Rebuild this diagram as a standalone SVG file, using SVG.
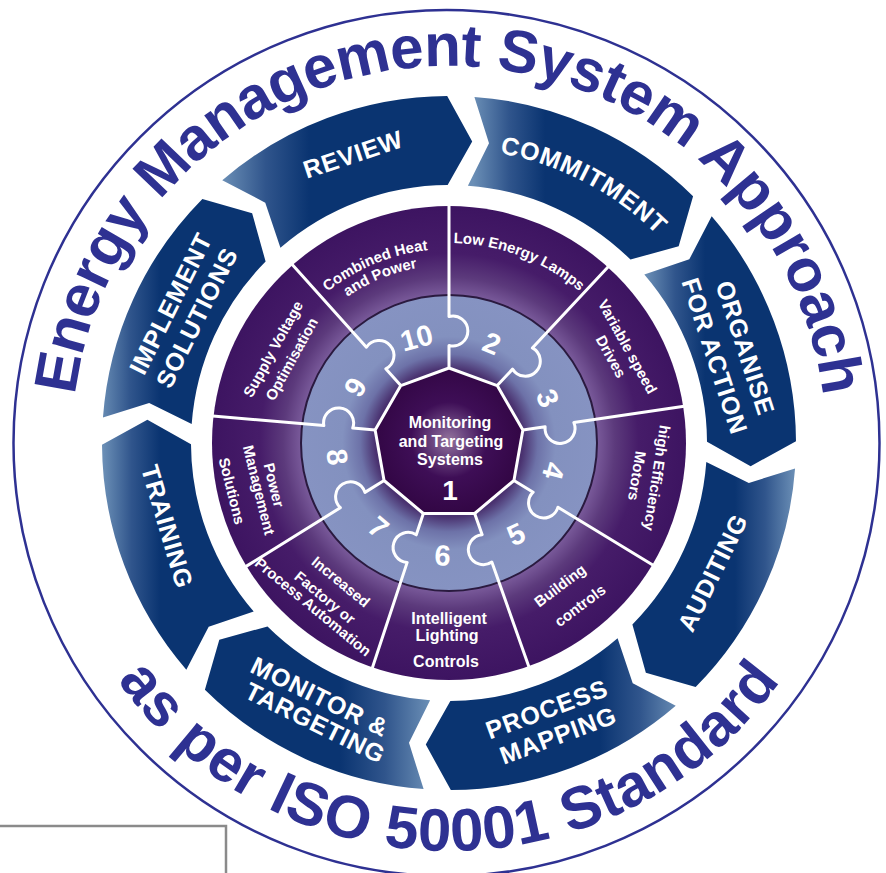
<svg xmlns="http://www.w3.org/2000/svg" width="886" height="873" viewBox="0 0 886 873">
<defs>
<style>
.t{font-family:"Liberation Sans",Arial,Helvetica,sans-serif;font-weight:bold;fill:#ffffff}
.cv{font-size:25px;letter-spacing:0.8px;text-anchor:middle}
.sg{font-size:15px;text-anchor:middle}
.num{font-size:29px;text-anchor:middle}
.title{font-family:"Liberation Sans",Arial,Helvetica,sans-serif;font-weight:bold;font-size:60px;fill:#2e3192}
.spoke{fill:none;stroke:#ffffff;stroke-width:3;stroke-linejoin:round;stroke-linecap:round}
</style>
<path id="chev" d="M347,0 A347,347 0 0 1 263.86,225.36 L213.15,214.65 L196.19,167.56 A258,258 0 0 0 258,0 L301.97,17.94 Z"/>
<linearGradient id="gbase">
<stop offset="0" stop-color="#6b8fb6"/>
<stop offset="0.5" stop-color="#30558c"/>
<stop offset="1" stop-color="#0a3471"/>
</linearGradient>
<linearGradient id="gR" href="#gbase" gradientUnits="userSpaceOnUse" x1="-227" y1="0" x2="-140" y2="0" gradientTransform="rotate(130.8)"/>
<linearGradient id="gC" href="#gbase" gradientUnits="userSpaceOnUse" x1="24" y1="0" x2="96" y2="0" gradientTransform="rotate(85.8)"/>
<linearGradient id="gO" href="#gbase" gradientUnits="userSpaceOnUse" x1="196" y1="0" x2="256" y2="0" gradientTransform="rotate(40.8)"/>
<linearGradient id="gA" href="#gbase" gradientUnits="userSpaceOnUse" x1="346" y1="0" x2="286" y2="0" gradientTransform="rotate(-4.2)"/>
<linearGradient id="gP" href="#gbase" gradientUnits="userSpaceOnUse" x1="231" y1="0" x2="151" y2="0" gradientTransform="rotate(-49.2)"/>
<linearGradient id="gM" href="#gbase" gradientUnits="userSpaceOnUse" x1="-19" y1="0" x2="-109" y2="0" gradientTransform="rotate(-94.2)"/>
<linearGradient id="gT" href="#gbase" gradientUnits="userSpaceOnUse" x1="-346" y1="0" x2="-289" y2="0" gradientTransform="rotate(-139.2)"/>
<linearGradient id="gI" href="#gbase" gradientUnits="userSpaceOnUse" x1="-349" y1="0" x2="-289" y2="0" gradientTransform="rotate(-184.2)"/>
<radialGradient id="gPurple" gradientUnits="userSpaceOnUse" cx="449" cy="443" r="237">
<stop offset="0" stop-color="#7b5c9c"/>
<stop offset="0.62" stop-color="#7b5c9c"/>
<stop offset="0.7" stop-color="#5c3a7c"/>
<stop offset="0.8" stop-color="#461c69"/>
<stop offset="1" stop-color="#3d1461"/>
</radialGradient>
<radialGradient id="gRing" gradientUnits="userSpaceOnUse" cx="449" cy="443" r="148">
<stop offset="0" stop-color="#2d0c45"/>
<stop offset="0.5" stop-color="#4a3270"/>
<stop offset="0.6" stop-color="#6d72a8"/>
<stop offset="0.72" stop-color="#8391bf"/>
<stop offset="1" stop-color="#8693c2"/>
</radialGradient>
<radialGradient id="gNon" gradientUnits="userSpaceOnUse" cx="449" cy="440" r="76">
<stop offset="0" stop-color="#93739c"/>
<stop offset="0.22" stop-color="#6b4580"/>
<stop offset="0.5" stop-color="#3e0e56"/>
<stop offset="1" stop-color="#320644"/>
</radialGradient>
<path id="arcTop" d="M72,443 A377,377 0 0 1 826,443"/>
<path id="arcBot" d="M41,443 A408,408 0 0 0 857,443"/>
<path id="arcCommit" d="M336.49,171.38 A294,294 0 0 1 736.03,379.37"/>
<path id="arcLamps" d="M352.04,268.08 A200,200 0 0 1 638.10,377.89"/>
<path id="arcCHP1" d="M263.98,384.66 A194,194 0 0 1 538.56,270.92"/>
<path id="arcCHP2" d="M279.24,389.47 A178,178 0 0 1 531.19,285.11"/>
</defs>

<rect x="0" y="0" width="886" height="873" fill="#ffffff"/>

<g id="frame-box">
<rect x="-3" y="826" width="229" height="60" fill="none" stroke="#8a8a8a" stroke-width="2.5"/>
</g>

<g id="outer-circle">
<circle cx="446.5" cy="443" r="433" fill="none" stroke="#2e3192" stroke-width="2.5"/>
</g>

<g id="title">
<text class="title" letter-spacing="-0.7"><textPath href="#arcTop" startOffset="50%" text-anchor="middle">Energy Management System Approach</textPath></text>
<text class="title" letter-spacing="0.7"><textPath href="#arcBot" startOffset="50%" text-anchor="middle">as per ISO 50001 Standard</textPath></text>
</g>

<g id="cycle">
<g id="review">
<use href="#chev" fill="url(#gR)" transform="translate(449,443) rotate(-130.8)"/>
<text class="t cv" transform="translate(353,154) rotate(-18.4)" y="9">REVIEW</text>
</g>
<g id="commitment">
<use href="#chev" fill="url(#gC)" transform="translate(449,443) rotate(-85.8)"/>
<text class="t cv" letter-spacing="1.5"><textPath href="#arcCommit" startOffset="50%">COMMITMENT</textPath></text>
</g>
<g id="organise">
<use href="#chev" fill="url(#gO)" transform="translate(449,443) rotate(-40.8)"/>
<text class="t cv" transform="translate(745.5,348) rotate(72)" y="9">ORGANISE</text>
<text class="t cv" transform="translate(715,356) rotate(72)" y="9">FOR ACTION</text>
</g>
<g id="auditing">
<use href="#chev" fill="url(#gA)" transform="translate(449,443) rotate(4.2)"/>
<text class="t cv" transform="translate(712.5,572.5) rotate(-63.8)" y="9">AUDITING</text>
</g>
<g id="process-mapping">
<use href="#chev" fill="url(#gP)" transform="translate(449,443) rotate(49.2)"/>
<text class="t cv" transform="translate(546.7,709) rotate(-20.3)" y="9">PROCESS</text>
<text class="t cv" transform="translate(558,735) rotate(-20.3)" y="9">MAPPING</text>
</g>
<g id="monitor-targeting">
<use href="#chev" fill="url(#gM)" transform="translate(449,443) rotate(94.2)"/>
<text class="t cv" transform="translate(320,696.5) rotate(26.2)" y="9">MONITOR &amp;</text>
<text class="t cv" transform="translate(315.5,722.5) rotate(26.2)" y="9">TARGETING</text>
</g>
<g id="training">
<use href="#chev" fill="url(#gT)" transform="translate(449,443) rotate(139.2)"/>
<text class="t cv" transform="translate(167.5,526.5) rotate(73.5)" y="9">TRAINING</text>
</g>
<g id="implement">
<use href="#chev" fill="url(#gI)" transform="translate(449,443) rotate(184.2)"/>
<text class="t cv" transform="translate(170.5,303.5) rotate(-63.5)" y="9">IMPLEMENT</text>
<text class="t cv" transform="translate(196.5,317.5) rotate(-63.5)" y="9">SOLUTIONS</text>
</g>
</g>

<g id="wheel">
<circle id="outer-wheel" cx="449" cy="443" r="237" fill="url(#gPurple)"/>
<circle id="puzzle-ring" cx="449" cy="443" r="148" fill="url(#gRing)" stroke="#2a1a3f" stroke-width="2"/>
</g>

<g id="dividers">
<path class="spoke" transform="translate(449,368) rotate(-90)" d="M0,0 L22.5,0 A15,15 0 1 0 51.5,0 L163,0"/>
<path class="spoke" transform="translate(497.21,385.55) rotate(-46.96)" d="M0,0 L22.5,0 A15,15 0 1 0 51.5,0 L163,0"/>
<path class="spoke" transform="translate(522.86,429.98) rotate(-8.34)" d="M0,0 L22.5,0 A15,15 0 1 0 51.5,0 L163,0"/>
<path class="spoke" transform="translate(513.95,480.5) rotate(31.33)" d="M0,0 L22.5,0 A15,15 0 1 0 51.5,0 L163,0"/>
<path class="spoke" transform="translate(474.65,513.48) rotate(70.5)" d="M0,0 L22.5,0 A15,15 0 1 0 51.5,0 L163,0"/>
<path class="spoke" transform="translate(423.35,513.48) rotate(108.28)" d="M0,0 L22.5,0 A15,15 0 1 0 51.5,0 L163,0"/>
<path class="spoke" transform="translate(384.05,480.5) rotate(148.1)" d="M0,0 L22.5,0 A15,15 0 1 0 51.5,0 L163,0"/>
<path class="spoke" transform="translate(375.14,429.98) rotate(184.94)" d="M0,0 L22.5,0 A15,15 0 1 0 51.5,0 L163,0"/>
<path class="spoke" transform="translate(400.79,385.55) rotate(228.12)" d="M0,0 L22.5,0 A15,15 0 1 0 51.5,0 L163,0"/>
</g>

<g id="node-1">
<polygon points="449,368 497.21,385.55 522.86,429.98 513.95,480.5 474.65,513.48 423.35,513.48 384.05,480.5 375.14,429.98 400.79,385.55" fill="url(#gNon)" stroke="#ffffff" stroke-width="3" stroke-linejoin="round"/>
<text class="t" font-size="16" text-anchor="middle"><tspan x="450" y="428.3">Monitoring</tspan><tspan x="451" y="446.7">and Targeting</tspan><tspan x="450" y="465">Systems</tspan></text>
<text class="t" font-size="28" text-anchor="middle" x="450" y="500">1</text>
</g>

<g id="node-2">
<text class="t num" transform="translate(492,343) rotate(23)" y="10.4">2</text>
<text class="t sg"><textPath href="#arcLamps" startOffset="50%">Low Energy Lamps</textPath></text>
</g>
<g id="node-3">
<text class="t num" transform="translate(548,398) rotate(65.6)" y="10.4">3</text>
<text class="t sg" transform="translate(627.5,346.5) rotate(61)" y="5.3">Variable speed</text>
<text class="t sg" transform="translate(611,356.5) rotate(61)" y="5.3">Drives</text>
</g>
<g id="node-4">
<text class="t num" transform="translate(554,471) rotate(105)" y="10.4">4</text>
<text class="t sg" transform="translate(657,478) rotate(99)" y="5.3">high Efficiency</text>
<text class="t sg" transform="translate(637,476) rotate(99)" y="5.3">Motors</text>
</g>
<g id="node-5">
<text class="t num" transform="translate(516,534) rotate(-25)" y="10.4">5</text>
<text class="t sg" transform="translate(560,585.5) rotate(-37)" y="5.3">Building</text>
<text class="t sg" transform="translate(580,605.5) rotate(-37)" y="5.3">controls</text>
</g>
<g id="node-6">
<text class="t num" transform="translate(442.5,555) rotate(3)" y="10.4">6</text>
<text class="t" font-size="16" text-anchor="middle"><tspan x="449" y="624">Intelligent</tspan><tspan x="447" y="640.5">Lighting</tspan><tspan x="446" y="666.5">Controls</tspan></text>
</g>
<g id="node-7">
<text class="t num" transform="translate(378.5,527) rotate(40)" y="10.4">7</text>
<text class="t sg" transform="translate(340.8,581.7) rotate(39.5)" y="5.3">Increased</text>
<text class="t sg" transform="translate(325,597.5) rotate(39.5)" y="5.3">Factory or</text>
<text class="t sg" font-size="12.5" transform="translate(312.5,607.5) rotate(39.5)" y="4.4">Process Automation</text>
</g>
<g id="node-8">
<text class="t num" transform="translate(337.5,457) rotate(83)" y="10.4">8</text>
<text class="t sg" transform="translate(274,485) rotate(76)" y="5.3">Power</text>
<text class="t sg" transform="translate(259,490) rotate(76)" y="5.3">Management</text>
<text class="t sg" transform="translate(232,491) rotate(76)" y="5.3">Solutions</text>
</g>
<g id="node-9">
<text class="t num" transform="translate(355,387) rotate(-59)" y="10.4">9</text>
<text class="t sg" transform="translate(273,349) rotate(-61)" y="5.3">Supply Voltage</text>
<text class="t sg" transform="translate(291.5,359) rotate(-61)" y="5.3">Optimisation</text>
</g>
<g id="node-10">
<text class="t num" transform="translate(416.5,337.5) rotate(-15)" y="10.4">10</text>
<text class="t sg"><textPath href="#arcCHP1" startOffset="50%">Combined Heat</textPath></text>
<text class="t sg"><textPath href="#arcCHP2" startOffset="50%">and Power</textPath></text>
</g>
</svg>
